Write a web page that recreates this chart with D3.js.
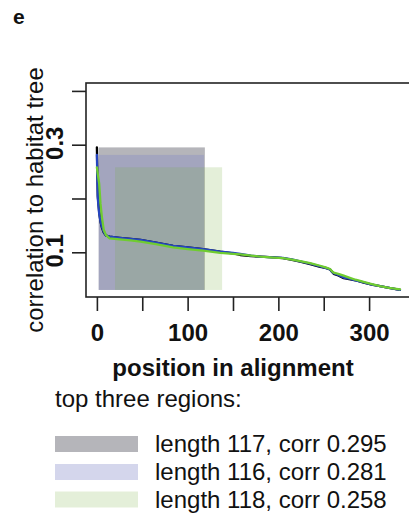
<!DOCTYPE html>
<html>
<head>
<meta charset="utf-8">
<script src="https://cdn.jsdelivr.net/npm/d3@7"></script>
<style>
  html, body { margin: 0; padding: 0; background: #fff; }
  svg { display: block; font-family: "Liberation Sans", Arial, sans-serif; }
</style>
</head>
<body>
<svg id="chart" width="409" height="515"></svg>
<script>
// Position along the alignment (shared by the three curves)
const positions = [0, 1, 2.5, 4, 5.5, 7.5, 10, 14, 25, 37, 48, 65, 84, 100, 117, 136,
  150, 158, 170, 180, 195, 205, 215, 224, 235, 246, 252, 257, 259, 261, 266, 272,
  278, 285, 294, 303, 312, 322, 334];

// Correlation to the habitat tree for each curve
const corrBlack = [.295, .205, .175, .157, .146, .137, .131, .129, .127, .125, .123, .118, .112, .109, .106, .101,
  .098, .095, .093, .092, .0905, .089, .086, .0825, .078, .073, .071, .068, .064, .060, .057, .052,
  .050, .048, .0435, .040, .037, .034, .030];
const corrBlue = [.281, .200, .172, .157, .148, .138, .131, .129, .127, .125, .123, .118, .112, .109, .106, .101,
  .099, .097, .094, .092, .0905, .0895, .087, .083, .079, .074, .071, .068, .064, .061, .058, .053,
  .051, .048, .044, .040, .037, .034, .030];
const corrGreen = [.258, .245, .228, .190, .166, .142, .132, .126, .124, .122, .120, .115, .109, .106, .103, .099,
  .097, .096, .094, .092, .090, .089, .0865, .0835, .080, .075, .072, .069, .065, .062, .060, .0565,
  .053, .049, .045, .041, .037, .034, .031];

// Top three regions: start, end, correlation
const regionStart = [2, 2, 20];
const regionEnd = [119, 118, 138];
const regionCorr = [0.295, 0.281, 0.258];
const regionLength = [117, 116, 118];
const regionBase = 0.03;

// Tick values and labels
const xTicks = [0, 50, 100, 150, 200, 250, 300];
const xTickLabels = [0, 100, 200, 300];
const yTicks = [0.1, 0.2, 0.3, 0.4];
const yTickLabels = [0.1, 0.3];

const lineColors = ["#000000", "#2645c0", "#6fcc30"];
const regionFills = [
  { fill: "rgb(100,100,110)", opacity: 0.48 },
  { fill: "rgb(128,134,199)", opacity: 0.34 },
  { fill: "rgb(120,175,65)", opacity: 0.2 }
];

const svg = d3.select("#chart");
const box = { left: 86, right: 419, top: 83, bottom: 297 };

const x = d3.scaleLinear().domain([-12, 355]).range([box.left, box.right]);
const y = d3.scaleLinear().domain([0.0169, 0.4147]).range([box.bottom, box.top]);

// panel letter
svg.append("text").attr("x", 13).attr("y", 24)
  .attr("font-size", 21).attr("font-weight", "bold").attr("fill", "#111").text("e");

// shaded regions
const regions = d3.range(regionStart.length).map(i => ({
  s: regionStart[i], e: regionEnd[i], c: regionCorr[i], len: regionLength[i], style: regionFills[i]
}));
svg.append("g").selectAll("rect").data(regions).join("rect")
  .attr("x", d => x(d.s))
  .attr("width", d => x(d.e) - x(d.s))
  .attr("y", d => y(d.c))
  .attr("height", d => y(regionBase) - y(d.c))
  .attr("fill", d => d.style.fill)
  .attr("fill-opacity", d => d.style.opacity);

// correlation curves
const series = [corrBlack, corrBlue, corrGreen];
const line = d3.line().x(d => x(d[0])).y(d => y(d[1]));
series.forEach((vals, i) => {
  svg.append("path")
    .datum(positions.map((p, j) => [p, vals[j]]))
    .attr("d", line)
    .attr("fill", "none")
    .attr("stroke", lineColors[i])
    .attr("stroke-width", 2.3)
    .attr("stroke-linejoin", "round")
    .attr("stroke-linecap", "round");
});

// plot frame
svg.append("rect")
  .attr("x", box.left).attr("y", box.top)
  .attr("width", box.right - box.left).attr("height", box.bottom - box.top)
  .attr("fill", "none").attr("stroke", "#222").attr("stroke-width", 1.6);

// x axis
const xAxis = d3.axisBottom(x).tickValues(xTicks).tickSize(14)
  .tickFormat(d => xTickLabels.includes(d) ? d : "");
const gx = svg.append("g").attr("transform", `translate(0,${box.bottom})`).call(xAxis);
gx.select(".domain").remove();
gx.selectAll(".tick line").attr("stroke", "#222").attr("stroke-width", 1.6);
gx.selectAll(".tick text")
  .attr("font-family", "Liberation Sans, Arial, sans-serif")
  .attr("font-size", 24).attr("font-weight", "bold").attr("fill", "#111")
  .attr("dy", null).attr("y", 44);

// y axis
const yAxis = d3.axisLeft(y).tickValues(yTicks).tickSize(14)
  .tickFormat(d => yTickLabels.some(v => Math.abs(v - d) < 1e-9) ? d3.format(".1f")(d) : "");
const gy = svg.append("g").attr("transform", `translate(${box.left},0)`).call(yAxis);
gy.select(".domain").remove();
gy.selectAll(".tick line").attr("stroke", "#222").attr("stroke-width", 1.6);
gy.selectAll(".tick text")
  .attr("font-family", "Liberation Sans, Arial, sans-serif")
  .attr("font-size", 24).attr("font-weight", "bold").attr("fill", "#111")
  .attr("x", null).attr("dy", null)
  .attr("text-anchor", "middle")
  .attr("transform", "translate(-23,-2) rotate(-90)");

// axis titles
svg.append("text")
  .attr("x", 233).attr("y", 376)
  .attr("text-anchor", "middle").attr("font-size", 24).attr("font-weight", "bold")
  .attr("fill", "#111").text("position in alignment");

svg.append("text")
  .attr("transform", "translate(43,200) rotate(-90)")
  .attr("text-anchor", "middle").attr("font-size", 24)
  .attr("fill", "#111").text("correlation to habitat tree");

// legend
svg.append("text").attr("x", 55).attr("y", 407)
  .attr("font-size", 24).attr("fill", "#111").text("top three regions:");

const rowBase = [452, 480, 507.5];
const leg = svg.append("g").selectAll("g").data(regions).join("g");
leg.append("rect")
  .attr("x", 55).attr("width", 83)
  .attr("y", (d, i) => rowBase[i] - 16).attr("height", 16)
  .attr("fill", d => d.style.fill).attr("fill-opacity", d => d.style.opacity);
leg.append("text")
  .attr("x", 155).attr("y", (d, i) => rowBase[i])
  .attr("font-size", 24).attr("fill", "#111")
  .text(d => `length ${d.len}, corr ${d3.format(".3f")(d.c)}`);
</script>
</body>
</html>
